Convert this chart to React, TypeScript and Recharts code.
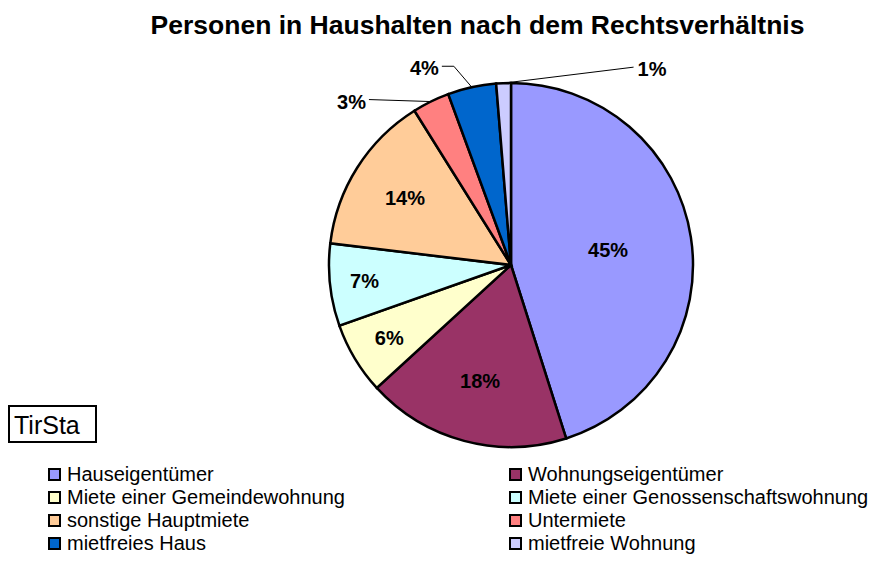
import React from "react";
import { PieChart, Pie, Cell, Legend } from "recharts";

const categories = [
  "Hauseigentümer",
  "Wohnungseigentümer",
  "Miete einer Gemeindewohnung",
  "Miete einer Genossenschaftswohnung",
  "sonstige Hauptmiete",
  "Untermiete",
  "mietfreies Haus",
  "mietfreie Wohnung",
];
const shares = [45.1, 18.1, 6.4, 7.3, 14.2, 3.3, 4.3, 1.3];
const colors = ["#9999FF", "#993366", "#FFFFCC", "#CCFFFF", "#FFCC99", "#FF8080", "#0066CC", "#CCCCFF"];

const data = categories.map((name, i) => ({ name, value: shares[i] }));

const FONT = "Arial, 'Liberation Sans', sans-serif";
const RAD = Math.PI / 180;

// Excel placed the inside labels at slightly different radii
const insideR = [0.54, 0.66, 0.78, 0.81, 0.69];
// outside labels: leader line from the slice edge to [dx, dy], optional elbow
const outside: Record<number, { elbow?: [number, number]; end: [number, number]; anchor: "start" | "end" }> = {
  5: { end: [-62, -2], anchor: "end" },
  6: { elbow: [-18, -21], end: [-30, -21], anchor: "end" },
  7: { end: [130, -16], anchor: "start" },
};

function renderLabel(props: any) {
  const { cx, cy, midAngle, outerRadius, percent, index } = props;
  const text = `${Math.round(percent * 100)}%`;
  const sin = Math.sin(-midAngle * RAD);
  const cos = Math.cos(-midAngle * RAD);
  const o = outside[index];
  if (!o) {
    const r = outerRadius * insideR[index];
    return (
      <text x={cx + r * cos} y={cy + r * sin} textAnchor="middle" dominantBaseline="central"
        fontFamily={FONT} fontSize={20} fontWeight="bold" fill="#000">
        {text}
      </text>
    );
  }
  const ex = cx + outerRadius * cos;
  const ey = cy + outerRadius * sin;
  const pts = [[ex, ey]];
  if (o.elbow) pts.push([ex + o.elbow[0], ey + o.elbow[1]]);
  const endX = ex + o.end[0];
  const endY = ey + o.end[1];
  pts.push([endX, endY]);
  return (
    <g>
      <polyline points={pts.map((p) => p.join(",")).join(" ")} fill="none" stroke="#000" strokeWidth={1} />
      <text x={o.anchor === "end" ? endX - 3 : endX + 4} y={endY + 2} textAnchor={o.anchor} dominantBaseline="central"
        fontFamily={FONT} fontSize={20} fontWeight="bold" fill="#000">
        {text}
      </text>
    </g>
  );
}

function LegendBox() {
  return (
    <div style={{ position: "relative", width: 894, height: 100, fontFamily: FONT, fontSize: 20, color: "#000" }}>
      {categories.map((name, i) => (
        <div key={name} style={{
          position: "absolute",
          left: i % 2 === 0 ? 48 : 509,
          top: Math.floor(i / 2) * 23,
          display: "flex", alignItems: "center", height: 23, whiteSpace: "nowrap",
        }}>
          <span style={{ width: 9, height: 9, border: "2px solid #000", background: colors[i], marginRight: 6 }} />
          <span>{name}</span>
        </div>
      ))}
    </div>
  );
}

export default function App() {
  return (
    <div style={{ position: "absolute", left: 0, top: 0, width: 894, height: 572, background: "#fff" }}>
      <div style={{ position: "absolute", left: 0, top: 10, width: 955, textAlign: "center",
        fontFamily: FONT, fontSize: 26.5, fontWeight: "bold", whiteSpace: "nowrap" }}>
        Personen in Haushalten nach dem Rechtsverhältnis
      </div>
      <div style={{ position: "absolute", left: 8, top: 405, width: 81, height: 34, border: "2px solid #000",
        fontFamily: FONT, fontSize: 25, lineHeight: "36px", paddingLeft: 4, boxSizing: "content-box" }}>
        TirSta
      </div>
      <PieChart width={894} height={572} style={{ position: "absolute", left: 0, top: 0 }}>
        <Pie data={data} dataKey="value" nameKey="name" cx={506} cy={260} outerRadius={182}
          startAngle={90} endAngle={-270} stroke="#000" strokeWidth={2.5}
          label={renderLabel} labelLine={false} isAnimationActive={false}>
          {data.map((d, i) => (
            <Cell key={d.name} fill={colors[i]} />
          ))}
        </Pie>
        <Legend content={() => <LegendBox />} wrapperStyle={{ left: 0, top: 463, width: 894 }} />
      </PieChart>
    </div>
  );
}
